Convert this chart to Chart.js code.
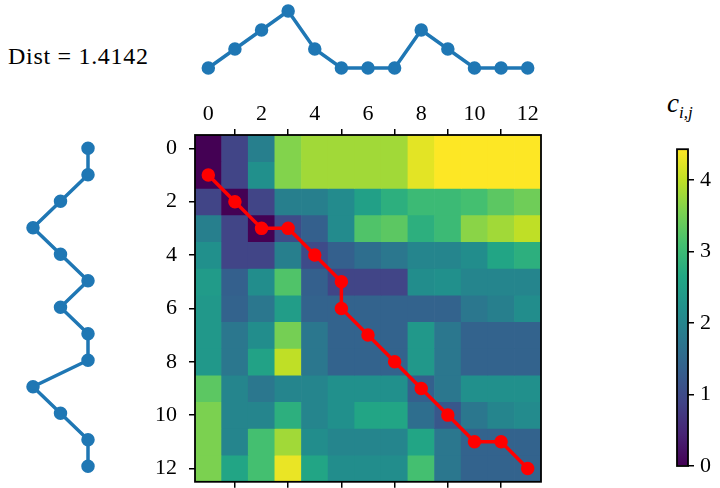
<!DOCTYPE html>
<html>
<head>
<meta charset="utf-8">
<script src="https://cdn.jsdelivr.net/npm/chart.js@4.4.0/dist/chart.umd.min.js"></script>
<style>
  body { margin: 0; background: #fff; width: 720px; height: 488px; position: relative; overflow: hidden; font-family: "Liberation Serif", serif; }
  canvas { position: absolute; }
  .txt { position: absolute; font-size: 22px; color: #000; white-space: nowrap; }
</style>
</head>
<body>
<div class="txt" style="left:8px; top:43px; font-size:24px; letter-spacing:0.7px;">Dist = 1.4142</div>
<div class="txt" style="left:667px; top:88px; font-style:italic; font-size:27px;">c<sub style="font-size:17px">i,j</sub></div>
<canvas id="top" width="400" height="85" style="left:150px; top:0px;"></canvas>
<canvas id="left" width="130" height="393" style="left:0px; top:95px;"></canvas>
<canvas id="heat" width="400" height="412" style="left:150px; top:95px;"></canvas>
<canvas id="cbar" width="70" height="358" style="left:650px; top:130px;"></canvas>
<script>
'use strict';
// series / path / matrix
const cols = [0, 1, 2, 3, 4, 5, 6, 7, 8, 9, 10, 11, 12];
const rows = [0, 1, 2, 3, 4, 5, 6, 7, 8, 9, 10, 11, 12];
const topSeries = [0, 1, 2, 3, 1, 0, 0, 0, 2, 1, 0, 0, 0];
const leftSeries = [0, 0, 1, 2, 1, 0, 1, 0, 0, 2, 1, 0, 0];
const pathCols = [0, 1, 2, 3, 4, 5, 5, 6, 7, 8, 9, 10, 11, 12];
const pathRows = [1, 2, 3, 3, 4, 5, 6, 7, 8, 9, 10, 11, 11, 12];
const axisTicks = [0, 2, 4, 6, 8, 10, 12];
const cbarTicks = [0, 1, 2, 3, 4];
const cbarMax = 4.43;
const cost = [
  [0, 0.9, 1.9, 3.6, 3.8, 3.8, 3.8, 3.8, 4.25, 4.43, 4.43, 4.43, 4.43],
  [0, 0.9, 2.2, 3.6, 3.8, 3.8, 3.8, 3.8, 4.25, 4.43, 4.43, 4.43, 4.43],
  [0.9, 0, 0.9, 1.9, 1.9, 2.1, 2.5, 2.8, 3.0, 3.0, 3.1, 3.3, 3.45],
  [1.9, 0.9, 0, 1.0, 1.35, 2.1, 3.2, 3.3, 2.8, 3.0, 3.65, 3.8, 4.0],
  [2.2, 0.9, 0.9, 1.9, 1.0, 1.35, 1.6, 1.75, 2.0, 2.0, 2.15, 2.6, 2.8],
  [2.4, 1.35, 2.15, 3.2, 1.35, 0.9, 0.9, 0.9, 2.15, 2.2, 2.0, 2.0, 2.0],
  [2.35, 1.4, 1.75, 2.45, 1.4, 1.4, 1.4, 1.4, 1.4, 1.4, 1.75, 1.9, 2.15],
  [2.35, 1.75, 2.15, 3.5, 1.75, 1.4, 1.4, 1.4, 2.35, 1.75, 1.4, 1.4, 1.4],
  [2.35, 1.75, 2.55, 4.0, 1.75, 1.4, 1.4, 1.4, 2.35, 1.75, 1.4, 1.4, 1.4],
  [3.3, 2.0, 1.75, 2.0, 2.0, 2.2, 2.2, 2.2, 1.35, 1.75, 2.2, 2.2, 2.2],
  [3.55, 2.0, 2.0, 2.8, 2.0, 2.2, 2.6, 2.6, 1.6, 1.2, 1.75, 2.0, 2.1],
  [3.55, 2.0, 3.1, 3.8, 2.15, 2.0, 2.0, 2.0, 2.6, 1.75, 1.4, 1.4, 1.4],
  [3.55, 2.6, 3.1, 4.3, 2.6, 2.15, 2.15, 2.15, 3.1, 1.75, 1.4, 1.4, 1.4]
];

const viridisStops = ['#440154', '#482475', '#414487', '#355f8d', '#2a788e', '#21918c',
  '#22a884', '#44bf70', '#7ad151', '#bddf26', '#fde725'];

function hexToRgb(h) {
  return [parseInt(h.slice(1, 3), 16), parseInt(h.slice(3, 5), 16), parseInt(h.slice(5, 7), 16)];
}
function viridis(t) {
  t = Math.max(0, Math.min(1, t));
  const pos = t * (viridisStops.length - 1);
  const i = Math.min(Math.floor(pos), viridisStops.length - 2);
  const f = pos - i;
  const a = hexToRgb(viridisStops[i]), b = hexToRgb(viridisStops[i + 1]);
  const c = a.map((v, k) => Math.round(v + (b[k] - v) * f));
  return 'rgb(' + c.join(',') + ')';
}

Chart.defaults.animation = false;
Chart.defaults.responsive = false;
Chart.defaults.font.family = '"Liberation Serif", serif';
Chart.defaults.font.size = 22;
Chart.defaults.color = '#000';
Chart.defaults.plugins.legend.display = false;
Chart.defaults.plugins.tooltip.enabled = false;

const blue = '#1f77b4';

//枠線
const framePlugin = {
  id: 'frame',
  afterDraw(chart) {
    const a = chart.chartArea, ctx = chart.ctx;
    ctx.save();
    ctx.strokeStyle = '#000';
    ctx.lineWidth = 1.8;
    ctx.strokeRect(a.left, a.top, a.right - a.left, a.bottom - a.top);
    ctx.restore();
  }
};

function fixedTicks(list) {
  return function(scale) {
    scale.ticks = list.map(v => ({value: v}));
  };
}
const tickGrid = {drawOnChartArea: false, drawTicks: true, tickLength: 6, color: '#000', lineWidth: 1.5};

// top series
new Chart(document.getElementById('top'), {
  type: 'scatter',
  data: {
    datasets: [{
      data: topSeries.map((v, i) => ({x: cols[i], y: v})),
      showLine: true,
      borderColor: blue,
      backgroundColor: blue,
      borderWidth: 3.5,
      pointRadius: 5,
      clip: false
    }]
  },
  options: {
    layout: {padding: {left: 45, right: 9, top: 11, bottom: 17}},
    scales: {
      x: {type: 'linear', min: -0.5, max: 12.5, display: false},
      y: {type: 'linear', min: 0, max: 3, display: false}
    }
  }
});

// left series
new Chart(document.getElementById('left'), {
  type: 'scatter',
  data: {
    datasets: [{
      data: leftSeries.map((v, i) => ({x: v, y: rows[i]})),
      showLine: true,
      borderColor: blue,
      backgroundColor: blue,
      borderWidth: 3.5,
      pointRadius: 5,
      clip: false
    }]
  },
  options: {
    layout: {padding: {left: 33, right: 42, top: 40, bottom: 7}},
    scales: {
      x: {type: 'linear', reverse: true, min: 0, max: 2, display: false},
      y: {type: 'linear', reverse: true, min: -0.5, max: 12.5, display: false}
    }
  }
});

// heatmap + path
const heatSets = cost.map((row, r) => ({
  type: 'bar',
  data: row.map((v, c) => ({x: cols[c], y: [rows[r] - 0.5, rows[r] + 0.5]})),
  backgroundColor: row.map(v => viridis(v / cbarMax)),
  borderWidth: 0,
  barPercentage: 1,
  categoryPercentage: 1,
  order: 2
}));
heatSets.push({
  type: 'line',
  data: pathCols.map((c, i) => ({x: c, y: pathRows[i]})),
  borderColor: '#ff0000',
  backgroundColor: '#ff0000',
  borderWidth: 3.5,
  pointRadius: 5,
  order: 1
});

new Chart(document.getElementById('heat'), {
  type: 'bar',
  data: {datasets: heatSets},
  options: {
    layout: {padding: {left: 0, right: 9, top: 0, bottom: 0}},
    scales: {
      x: {
        type: 'linear', position: 'top', min: -0.5, max: 12.5, offset: false, stacked: true,
        afterBuildTicks: fixedTicks(axisTicks),
        ticks: {padding: 2, maxRotation: 0, autoSkip: false},
        grid: tickGrid, border: {display: false},
        afterFit: s => { s.height = 40; }
      },
      xb: {
        type: 'linear', position: 'bottom', min: -0.5, max: 12.5, offset: false,
        afterBuildTicks: fixedTicks(axisTicks),
        ticks: {display: false},
        grid: tickGrid, border: {display: false},
        afterFit: s => { s.height = 7; }
      },
      y: {
        type: 'linear', reverse: true, min: -0.5, max: 12.5,
        afterBuildTicks: fixedTicks(axisTicks),
        ticks: {padding: 12, autoSkip: false},
        grid: tickGrid, border: {display: false},
        afterFit: s => { s.width = 45; }
      }
    }
  },
  plugins: [framePlugin]
});

// colorbar
new Chart(document.getElementById('cbar'), {
  type: 'bar',
  data: {
    labels: ['c'],
    datasets: [{
      data: [[0, cbarMax]],
      borderWidth: 0,
      barPercentage: 1,
      categoryPercentage: 1,
      backgroundColor: function(context) {
        const chart = context.chart;
        const ys = chart.scales.y;
        if (!chart.chartArea || !ys) return viridis(0.5);
        const g = chart.ctx.createLinearGradient(0, ys.getPixelForValue(0), 0, ys.getPixelForValue(cbarMax));
        viridisStops.forEach((c, i) => g.addColorStop(i / (viridisStops.length - 1), c));
        return g;
      }
    }]
  },
  options: {
    layout: {padding: {left: 27, right: 0, top: 17, bottom: 22}},
    scales: {
      x: {display: false},
      y: {
        position: 'right', min: 0, max: cbarMax,
        afterBuildTicks: fixedTicks(cbarTicks),
        ticks: {padding: 6},
        grid: tickGrid, border: {display: false},
        afterFit: s => { s.width = 32; }
      }
    }
  },
  plugins: [framePlugin]
});
</script>
</body>
</html>
